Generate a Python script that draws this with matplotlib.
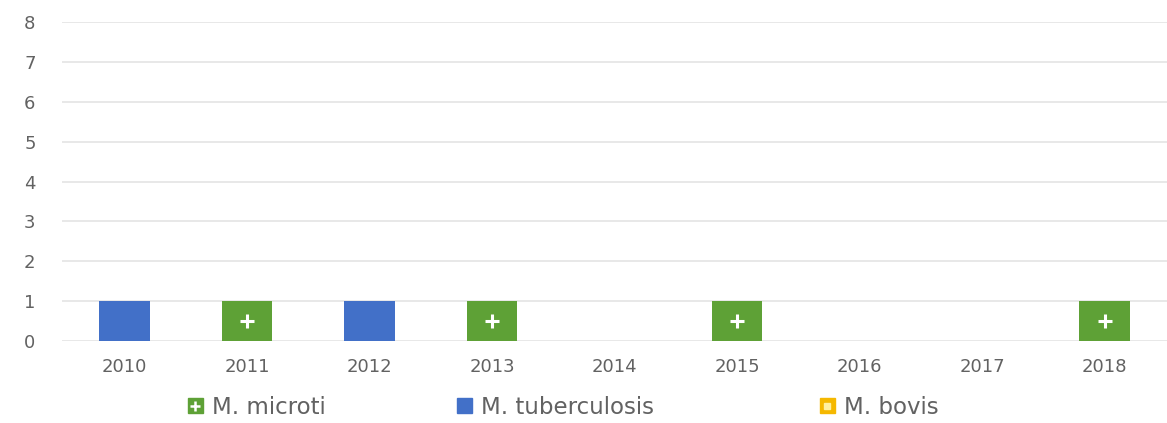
import numpy as np
import matplotlib
matplotlib.use("Agg")
import matplotlib.pyplot as plt
from matplotlib.patches import Patch
from matplotlib.lines import Line2D
from matplotlib.legend_handler import HandlerTuple

years = ["2010", "2011", "2012", "2013", "2014", "2015", "2016", "2017", "2018"]
microti = [0, 1, 0, 1, 0, 1, 0, 0, 1]
tuberculosis = [1, 0, 1, 0, 0, 0, 0, 0, 0]
bovis = [0, 0, 0, 0, 0, 0, 0, 0, 0]
series_names = ["M. microti", "M. tuberculosis", "M. bovis"]

GREEN = "#5EA136"
BLUE = "#4270C8"
YELLOW = "#F5B800"
GRAY = "#626262"

plt.rcParams["font.family"] = ["DejaVu Sans"]

W, H = 1167, 423
fig = plt.figure(figsize=(W / 100, H / 100), dpi=100)
ax = fig.add_axes([62 / W, 1 - 341 / H, (W - 62) / W, (341 - 22) / H])

x = np.arange(len(years))
w = 0.41
m = np.array(microti)
t = np.array(tuberculosis)
b = np.array(bovis)

ax.bar(x, m, w, color=GREEN, zorder=3)
ax.bar(x, t, w, bottom=m, color=BLUE, zorder=3)
ax.bar(x, b, w, bottom=m + t, color=YELLOW, zorder=3)

# white plus pattern on the microti bars
sel = m > 0
ax.scatter(x[sel], m[sel] / 2, marker="+", s=100, linewidths=2.2,
           color="white", zorder=4)

ax.set_xlim(-0.51, len(years) - 0.49)
ax.set_ylim(0, 8)
ax.set_yticks(range(0, 9))
ax.set_xticks(x)
ax.set_xticklabels(years)
ax.tick_params(axis="both", length=0, colors=GRAY, labelsize=13)
ax.tick_params(axis="y", pad=19)
ax.tick_params(axis="x", pad=12)
ax.grid(axis="y", color="#e6e6e6", linewidth=1.3, zorder=0)
for s in ax.spines.values():
    s.set_visible(False)

h_micro = (Patch(color=GREEN),
           Line2D([], [], marker="+", color="white", linestyle="none",
                  markersize=7, markeredgewidth=1.8))
h_tb = Patch(color=BLUE)
h_bovis = (Patch(color=YELLOW),
           Line2D([], [], marker="s", color="#FFF0A0", linestyle="none",
                  markersize=4))

# one legend entry per anchor, so each marker sits where it does in the original
anchors = [188, 457, 820]
for handle, name, ax_x in zip([h_micro, h_tb, h_bovis], series_names, anchors):
    fig.legend([handle], [name],
               handler_map={tuple: HandlerTuple(ndivide=1)},
               loc="center left", bbox_to_anchor=(ax_x / W, 1 - 407 / H),
               frameon=False, fontsize=16.5, labelcolor=GRAY,
               handlelength=0.65, handleheight=0.65, handletextpad=0.4,
               borderpad=0, borderaxespad=0)

fig.savefig("out.png", dpi=100)
